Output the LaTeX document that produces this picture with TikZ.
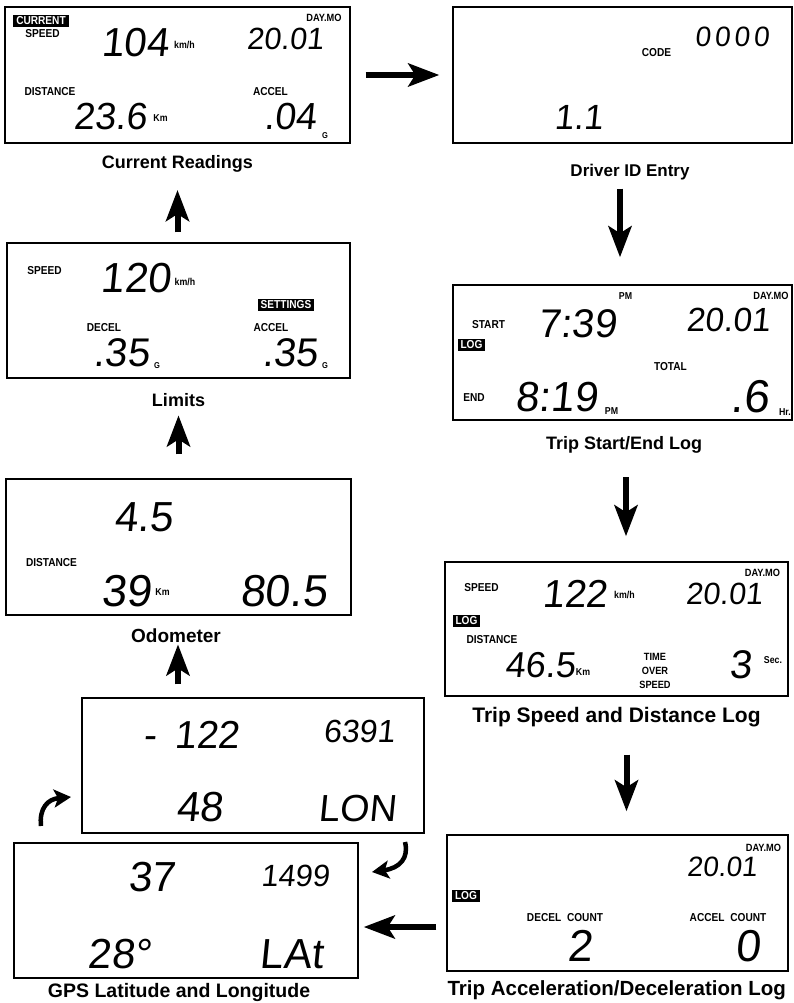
\documentclass[tikz,border=0pt]{standalone}
\usepackage{fontspec}
\setmainfont{Liberation Sans}
\newfontfamily\lblfont{Liberation Sans}[FakeStretch=0.88]
\newfontfamily\lcdfont{Liberation Sans}[FakeSlant=0.1]
\usetikzlibrary{arrows.meta}
\tikzset{
  lcdpanel/.style={draw=black, line width=1.4pt, inner sep=0pt, rectangle},
  lbltxt/.style={inner sep=0pt, font=\lblfont\bfseries\fontsize{11.5}{14}\selectfont},
  unitlbl/.style={inner sep=0pt, font=\lblfont\bfseries\fontsize{10}{12}\selectfont},
  blacktag/.style={fill=black, text=white, inner xsep=3pt, inner ysep=1.5pt, font=\lblfont\bfseries\fontsize{11.5}{12}\selectfont},
  lcd/.style={inner sep=0pt, font=\lcdfont\fontsize{#1}{#1}\selectfont},
  captxt/.style={inner sep=0pt, anchor=base, font=\bfseries\fontsize{#1}{#1}\selectfont},
  bigarrow/.style={line width=6pt, -{Stealth[length=31pt,width=23pt,inset=7pt]}},
  curvarrow/.style={line width=4.5pt, -{Stealth[length=17pt,width=18pt,inset=4pt]}}
}
\begin{document}
\begin{tikzpicture}[x=1pt,y=-1pt]
\useasboundingbox (0,0) rectangle (794,1003);

% ---------- Current Readings ----------
\node[lcdpanel, minimum width=345pt, minimum height=136pt] (cur) at (177.5,75) {};
\node[blacktag] (curtag) at (41,21) {CURRENT};
\node[lbltxt] (curspd) at (42.5,34) {SPEED};
\node[lcd=40.5] (curv1) at (135,42.5) {104};
\node[unitlbl] (curu1) at (184.5,45) {km/h};
\node[lcd=30.7] (curdate) at (285,39) {20.01};
\node[lbltxt, font=\lblfont\bfseries\fontsize{10.5}{12}\selectfont] (curday) at (324,17.5) {DAY.MO};
\node[lbltxt] (curdist) at (50,92) {DISTANCE};
\node[lcd=37.7] (curv2) at (110,116.5) {23.6};
\node[unitlbl] (curu2) at (160.5,118) {Km};
\node[lbltxt] (curacc) at (270.5,92) {ACCEL};
\node[lcd=37.7] (curv3) at (290,116.5) {.04};
\node[unitlbl, font=\lblfont\bfseries\fontsize{8.5}{10}\selectfont] (curu3) at (325,135.5) {G};
\node[captxt=18] (curcap) at (177.5,168) {Current Readings};

% ---------- Driver ID Entry ----------
\node[lcdpanel, minimum width=339pt, minimum height=136pt] (drv) at (622.5,75) {};
\node[lbltxt] (drvcode) at (656.5,52.5) {CODE};
\node[lcd=28, font=\lcdfont\fontsize{28}{28}\selectfont\addfontfeatures{LetterSpace=14}] (drvv1) at (732,36.5) {0000};
\node[lcd=35] (drvv2) at (578.5,117.5) {1.1};
\node[captxt=17] (drvcap) at (630,177) {Driver ID Entry};

% ---------- Trip Start/End Log ----------
\node[lcdpanel, minimum width=339pt, minimum height=135pt] (trip) at (622.5,352.5) {};
\node[unitlbl] (trippm1) at (625.5,296) {PM};
\node[lbltxt, font=\lblfont\bfseries\fontsize{10.5}{12}\selectfont] (tripday) at (771,296) {DAY.MO};
\node[lbltxt] (tripstart) at (488.5,325) {START};
\node[blacktag] (triptag) at (471.5,345) {LOG};
\node[lcd=40] (tripv1) at (577.5,324) {7:39};
\node[lcd=33.5] (tripdate) at (728,320) {20.01};
\node[lbltxt] (triptot) at (670.5,367) {TOTAL};
\node[lbltxt] (tripend) at (474,398) {END};
\node[lcd=42] (tripv2) at (556.5,397.5) {8:19};
\node[unitlbl] (trippm2) at (611.5,411.5) {PM};
\node[lcd=46] (tripv3) at (750,396.5) {.6};
\node[unitlbl] (triphr) at (785,412) {Hr.};
\node[captxt=18] (tripcap) at (624,449) {Trip Start/End Log};

% ---------- Trip Speed and Distance Log ----------
\node[lcdpanel, minimum width=343pt, minimum height=134pt] (spd) at (616.5,629) {};
\node[lbltxt, font=\lblfont\bfseries\fontsize{10.5}{12}\selectfont] (spdday) at (762.5,572.5) {DAY.MO};
\node[lbltxt] (spdspd) at (481.5,588) {SPEED};
\node[lcd=39] (spdv1) at (575,594) {122};
\node[unitlbl] (spdu1) at (624.5,595) {km/h};
\node[lcd=30.7] (spddate) at (724,594) {20.01};
\node[blacktag] (spdtag) at (466.5,621) {LOG};
\node[lbltxt] (spddist) at (492,640) {DISTANCE};
\node[lcd=36] (spdv2) at (540,665) {46.5};
\node[unitlbl] (spdu2) at (583,672) {Km};
\node[lbltxt, align=center, font=\lblfont\bfseries\fontsize{10.5}{14}\selectfont] (spdtime) at (655,671) {TIME\\OVER\\SPEED};
\node[lcd=40] (spdv3) at (741,665) {3};
\node[unitlbl] (spdsec) at (773,660) {Sec.};
\node[captxt=21] (spdcap) at (616.5,722) {Trip Speed and Distance Log};

% ---------- Trip Acceleration/Deceleration Log ----------
\node[lcdpanel, minimum width=341pt, minimum height=136pt] (acc) at (617.5,903) {};
\node[lbltxt, font=\lblfont\bfseries\fontsize{10.5}{12}\selectfont] (accday) at (763.5,847.5) {DAY.MO};
\node[lcd=28] (accdate) at (722,867) {20.01};
\node[blacktag] (acctag) at (466,896) {LOG};
\node[lbltxt] (accdec) at (565,918) {DECEL\hspace{0.5em}COUNT};
\node[lcd=44.7] (accv1) at (580,946) {2};
\node[lbltxt] (accacc) at (728,918) {ACCEL\hspace{0.5em}COUNT};
\node[lcd=44.7] (accv2) at (748,946) {0};
\node[captxt=20.5] (acccap) at (616.7,995) {Trip Acceleration/Deceleration Log};

% ---------- GPS Longitude ----------
\node[lcdpanel, minimum width=342pt, minimum height=135pt] (lon) at (253,765.5) {};
\node[lcd=39] (lonv1) at (191.5,735) {-\hspace{18pt}122};
\node[lcd=32] (lonv2) at (359,731.5) {6391};
\node[lcd=42] (lonv3) at (200,807) {48};
\node[lcd=37.7] (lonv4) at (357,808.5) {LON};

% ---------- GPS Latitude ----------
\node[lcdpanel, minimum width=344pt, minimum height=135pt] (lat) at (186,910.5) {};
\node[lcd=42] (latv1) at (151.5,877) {37};
\node[lcd=30.7] (latv2) at (295,876) {1499};
\node[lcd=42] (latv3) at (119.5,954) {28°};
\node[lcd=42] (latv4) at (291.5,954) {LAt};
\node[captxt=19.5] (latcap) at (179,997) {GPS Latitude and Longitude};

% ---------- Limits ----------
\node[lcdpanel, minimum width=343pt, minimum height=135pt] (lim) at (178.5,310.5) {};
\node[lbltxt] (limspd) at (44.5,271) {SPEED};
\node[lcd=42] (limv1) at (136,278) {120};
\node[unitlbl] (limu1) at (185,282) {km/h};
\node[blacktag] (limtag) at (286,305) {SETTINGS};
\node[lbltxt] (limdec) at (104,328) {DECEL};
\node[lcd=40] (limv2) at (121.5,352.5) {.35};
\node[unitlbl, font=\lblfont\bfseries\fontsize{8.5}{10}\selectfont] (limu2) at (157,366) {G};
\node[lbltxt] (limacc) at (271,328) {ACCEL};
\node[lcd=40] (limv3) at (290,352.5) {.35};
\node[unitlbl, font=\lblfont\bfseries\fontsize{8.5}{10}\selectfont] (limu3) at (325,366) {G};
\node[captxt=18] (limcap) at (178.5,406) {Limits};

% ---------- Odometer ----------
\node[lcdpanel, minimum width=345pt, minimum height=136pt] (odo) at (178.5,547) {};
\node[lcd=42] (odov1) at (143.5,517) {4.5};
\node[lbltxt] (ododist) at (51.5,563) {DISTANCE};
\node[lcd=44.7] (odov2) at (126.5,591) {39};
\node[unitlbl] (odou2) at (162.5,592) {Km};
\node[lcd=44.7] (odov3) at (283.5,591) {80.5};
\node[captxt=19] (odocap) at (176,642) {Odometer};

% ---------- Connectors ----------
\draw[bigarrow, shorten <=15pt, shorten >=13pt] (cur.east) -- (drv.west);
\draw[bigarrow, shorten <=8pt, shorten >=27pt] ([xshift=-10pt]drvcap.south) -- ([xshift=-10pt]drvcap.south |- trip.north);
\draw[bigarrow, shorten <=24pt, shorten >=25pt] ([xshift=2pt]tripcap.south) -- ([xshift=2pt]tripcap.south |- spd.north);
\draw[bigarrow, shorten <=28pt, shorten >=23pt] ([xshift=10pt]spdcap.south) -- ([xshift=10pt]spdcap.south |- acc.north);
\draw[bigarrow, shorten <=10pt, shorten >=5pt] ([yshift=-24pt]acc.west) -- ([yshift=-24pt]acc.west -| lat.east);
\draw[bigarrow, shorten <=13pt, shorten >=2pt] ([xshift=2pt]odocap.south |- lon.north) -- ([xshift=2pt]odocap.south);
\draw[bigarrow, shorten <=24pt, shorten >=9pt] (limcap.south |- odo.north) -- (limcap.south);
\draw[bigarrow, shorten <=10pt, shorten >=18pt] (curcap.south |- lim.north) -- (curcap.south);

\coordinate (c1s) at (41,826);
\coordinate (c1e) at (71,797);
\draw[curvarrow] (c1s) .. controls (39,808) and (48,799) .. (c1e);
\coordinate (c2s) at (405,842);
\coordinate (c2e) at (372,872);
\draw[curvarrow] (c2s) .. controls (409,858) and (400,868) .. (c2e);
\end{tikzpicture}
\end{document}
